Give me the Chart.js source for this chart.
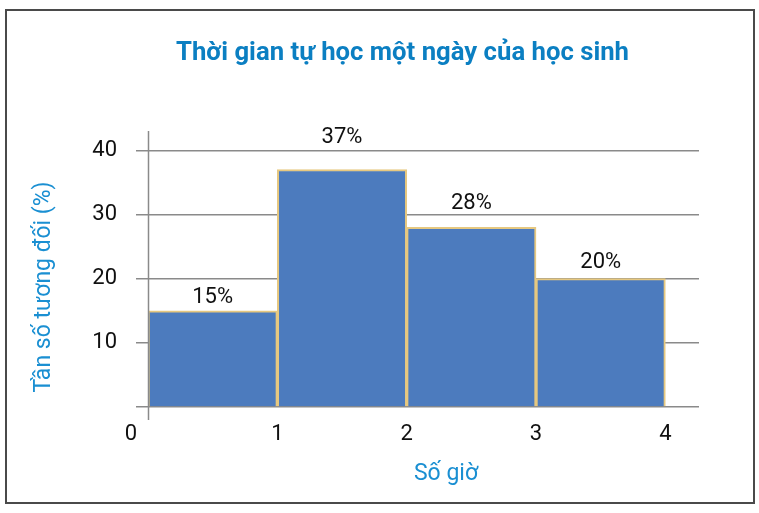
<!DOCTYPE html>
<html>
<head>
<meta charset="utf-8">
<script src="https://cdn.jsdelivr.net/npm/chart.js@4.4.0/dist/chart.umd.min.js"></script>
<style>
  html, body { margin: 0; padding: 0; background: #fff; }
  #wrap { width: 759px; height: 513px; position: relative; }
</style>
</head>
<body>
<div id="wrap"><canvas id="chart" width="759" height="513"></canvas></div>
<script>
// histogram data (relative frequency, %)
const binEdges = [0, 1, 2, 3, 4];
const percents = [15, 37, 28, 20];
const yTickValues = [0, 10, 20, 30, 40];
const chartTitle = 'Thời gian tự học một ngày của học sinh';
const xTitle = 'Số giờ';
const yTitle = 'Tần số tương đối (%)';
// label lift above each bar (px), the figure places them unevenly
const labelLift = [8, 27, 18, 11];

const FONT = 'Roboto, "Noto Sans", sans-serif';
const BLUE = '#0b7fc2';
const AXIS_BLUE = '#1a8fd2';

const barData = percents.map((v, i) => ({ x: (binEdges[i] + binEdges[i + 1]) / 2, y: v }));

const decor = {
  id: 'decor',
  beforeDraw(chart) {
    const ctx = chart.ctx;
    ctx.save();
    ctx.fillStyle = '#fff';
    ctx.fillRect(0, 0, chart.width, chart.height);
    ctx.strokeStyle = '#4a4a4a';
    ctx.lineWidth = 2;
    ctx.strokeRect(6, 10, 748, 493);
    ctx.restore();
  },
  afterDatasetsDraw(chart) {
    // vertical axis line at x = 0, running a bit past the baseline
    const ctx = chart.ctx;
    const x0 = Math.round(chart.scales.x.getPixelForValue(0)) + 0.5;
    ctx.save();
    ctx.strokeStyle = '#8a8a8a';
    ctx.lineWidth = 1.5;
    ctx.beginPath();
    ctx.moveTo(x0, chart.chartArea.top);
    ctx.lineTo(x0, chart.chartArea.bottom + 13);
    ctx.stroke();
    ctx.restore();
  },
  afterDraw(chart) {
    const ctx = chart.ctx;
    const xs = chart.scales.x;
    ctx.save();

    // title (condensed look: squeeze to measured width)
    ctx.font = 'bold 26px ' + FONT;
    ctx.fillStyle = BLUE;
    ctx.textAlign = 'center';
    ctx.textBaseline = 'alphabetic';
    const tw = ctx.measureText(chartTitle).width;
    const sx = Math.min(1, 453 / tw);
    ctx.save();
    ctx.translate(402.5, 60);
    ctx.scale(sx, 1);
    ctx.fillText(chartTitle, 0, 0);
    ctx.restore();

    // x tick labels at bin edges
    ctx.font = '22px ' + FONT;
    ctx.fillStyle = '#111';
    binEdges.forEach(e => {
      const px = xs.getPixelForValue(e) + (e === 0 ? -17 : 0);
      ctx.fillText(String(e), px, 440);
    });

    // percent labels over bars
    const meta = chart.getDatasetMeta(0);
    meta.data.forEach((bar, i) => {
      ctx.fillText(percents[i] + '%', bar.x, bar.y - labelLift[i]);
    });

    // axis titles
    ctx.font = '23px ' + FONT;
    ctx.fillStyle = AXIS_BLUE;
    ctx.fillText(xTitle, 446, 480);
    ctx.save();
    ctx.translate(50, 287);
    ctx.rotate(-Math.PI / 2);
    ctx.fillText(yTitle, 0, 0);
    ctx.restore();

    ctx.restore();
  }
};

new Chart(document.getElementById('chart').getContext('2d'), {
  type: 'bar',
  data: {
    datasets: [{
      data: barData,
      backgroundColor: '#4c7bbe',
      borderColor: '#e6c880',
      borderWidth: 2,
      barPercentage: 1,
      categoryPercentage: 1
    }]
  },
  plugins: [decor],
  options: {
    responsive: false,
    animation: false,
    layout: { padding: { top: 131, right: 60, left: 0, bottom: 0 } },
    plugins: { legend: { display: false }, tooltip: { enabled: false }, title: { display: false } },
    scales: {
      x: {
        type: 'linear',
        min: 0,
        max: 4.26,
        offset: false,
        afterFit: s => { s.height = 106; },
        ticks: { display: false, stepSize: 1, includeBounds: false },
        border: { display: false },
        grid: { display: false }
      },
      y: {
        min: 0,
        max: 43,
        afterFit: s => { s.width = 148; },
        afterBuildTicks: s => { s.ticks = yTickValues.map(v => ({ value: v })); },
        ticks: {
          padding: 19,
          color: '#111',
          font: { family: FONT, size: 22 },
          callback: v => (v === 0 ? '' : String(v))
        },
        border: { display: false },
        grid: { color: '#8a8a8a', lineWidth: 1.5, tickLength: 12 }
      }
    }
  }
});
</script>
</body>
</html>
